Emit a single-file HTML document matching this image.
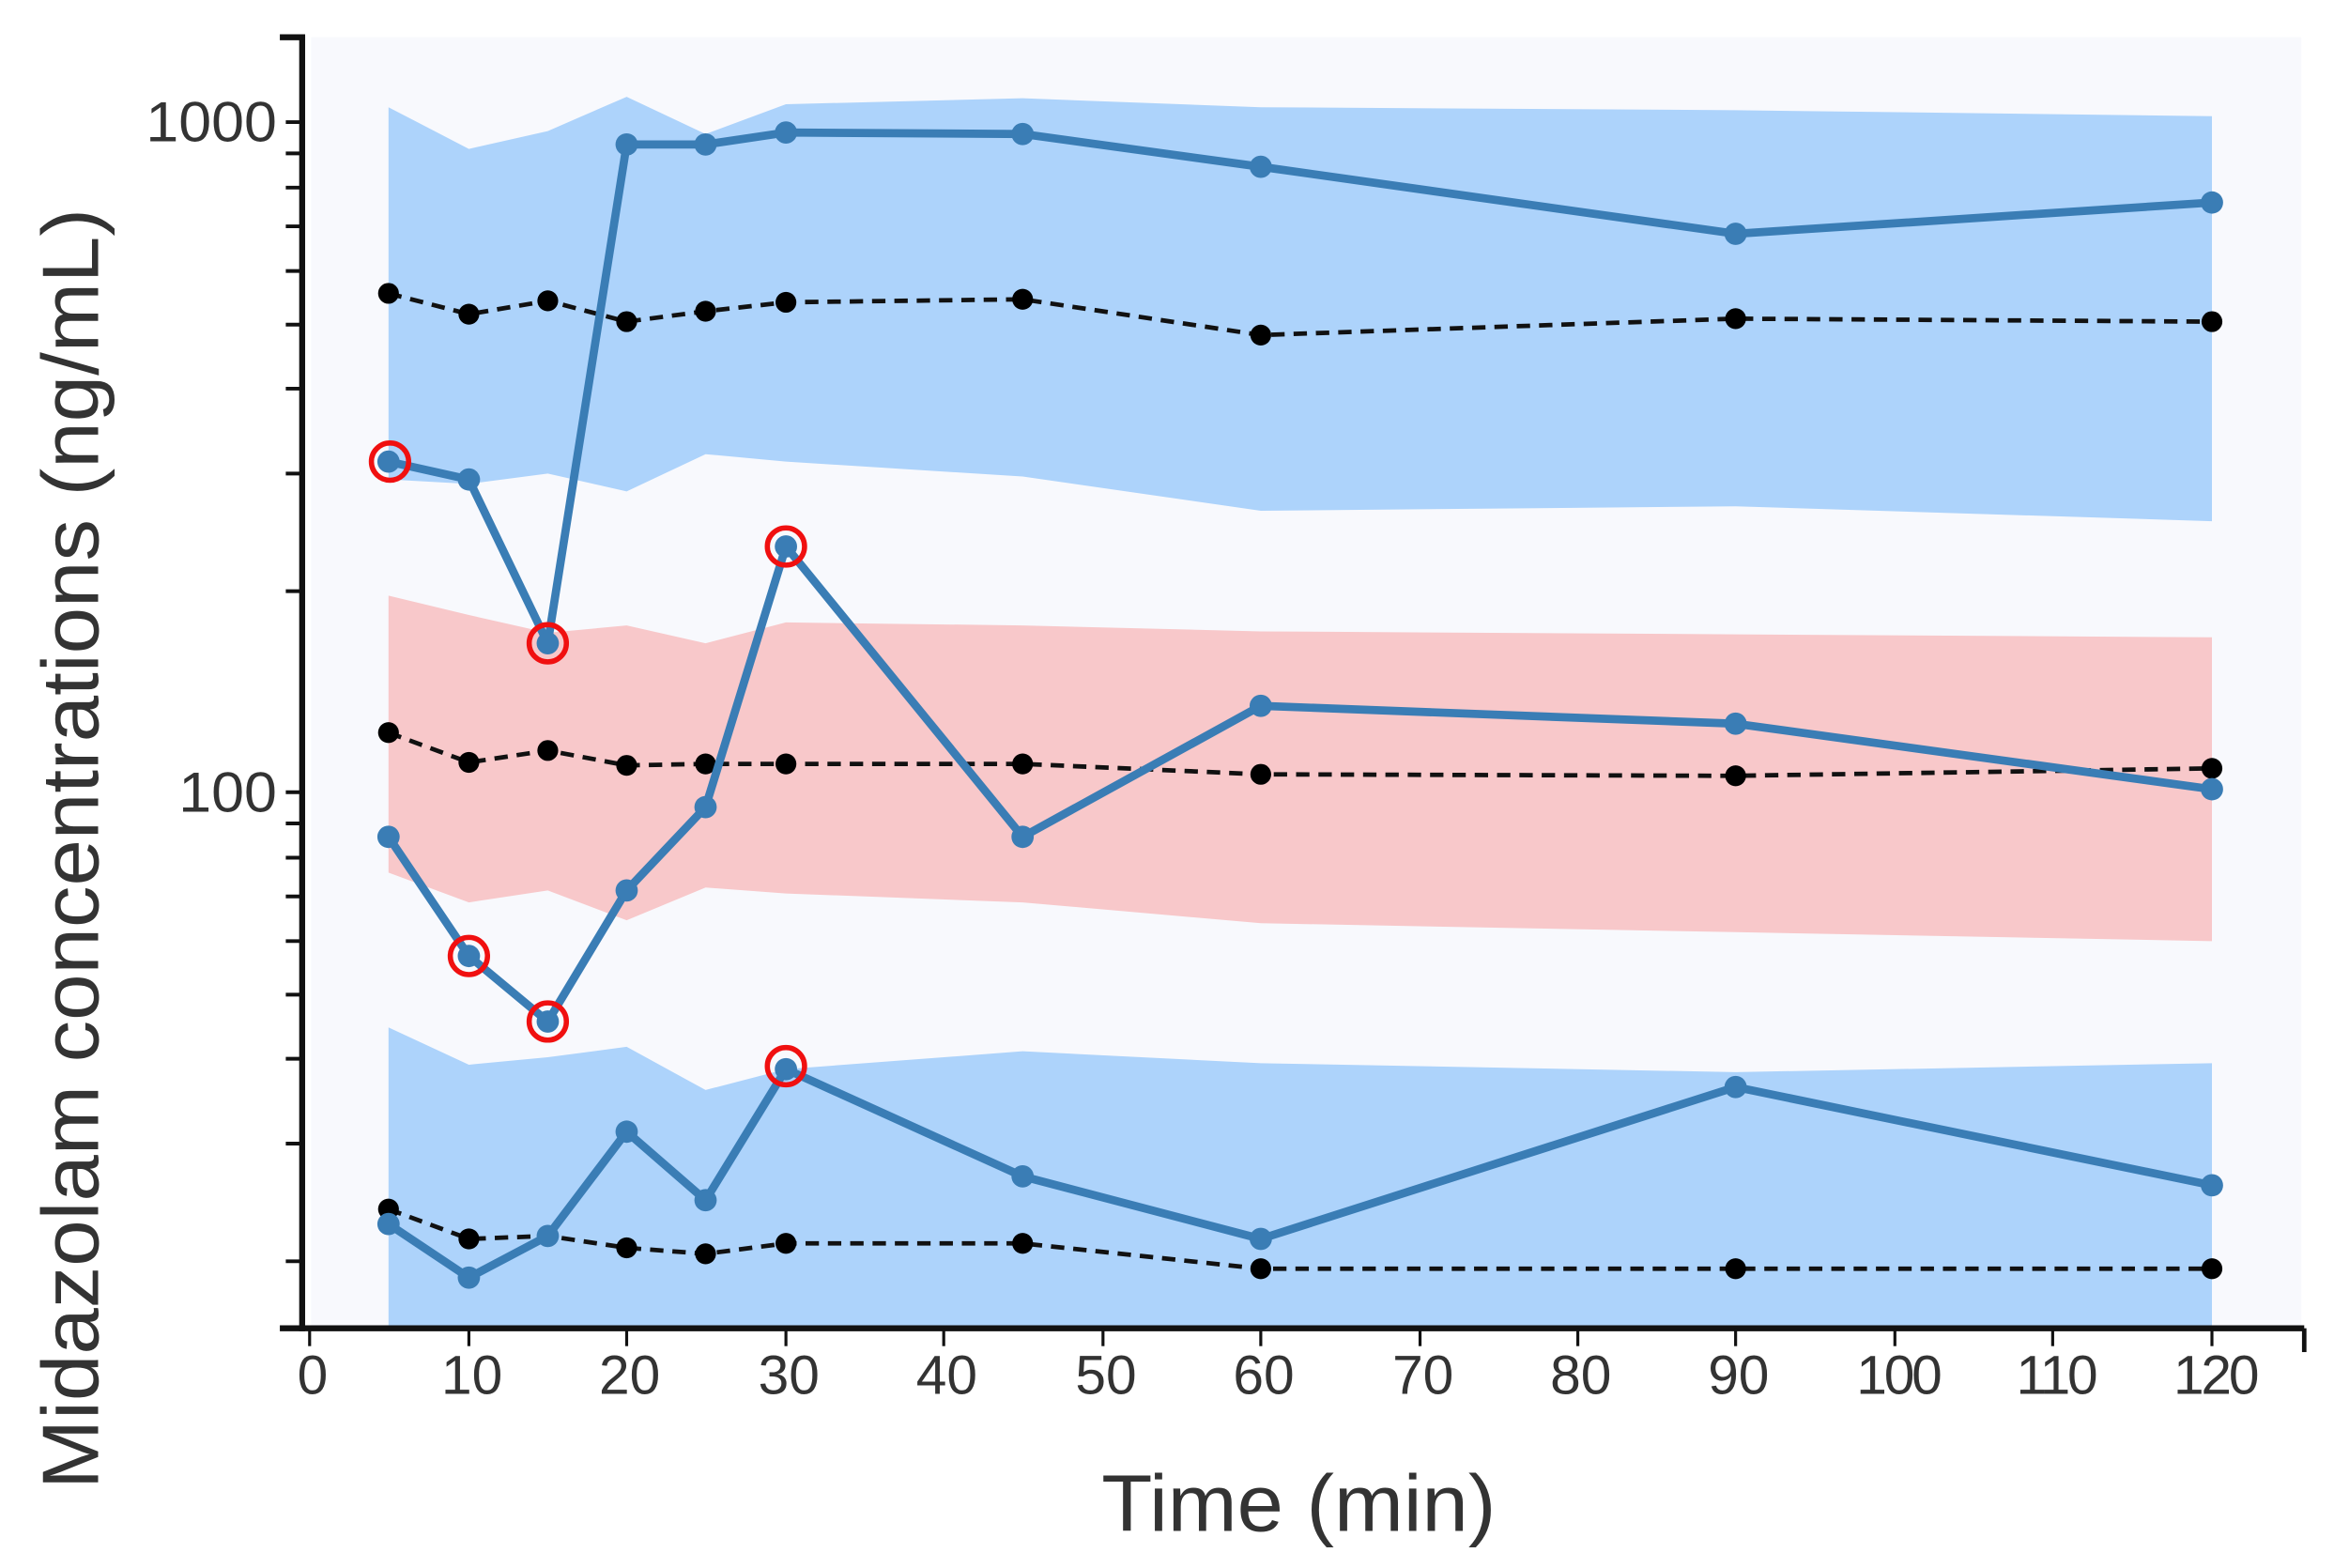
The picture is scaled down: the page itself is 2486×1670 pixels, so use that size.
<!DOCTYPE html>
<html><head><meta charset="utf-8"><style>
html,body{margin:0;padding:0;background:#fff;}
svg{display:block;}
text{font-family:"Liberation Sans",sans-serif;fill:#333;}
</style></head><body>
<svg width="2486" height="1670" viewBox="0 0 1568 1053" preserveAspectRatio="none" xmlns="http://www.w3.org/2000/svg">
<rect x="0" y="0" width="1568" height="1053" fill="#fff"/>
<rect x="209" y="25" width="1337" height="867" fill="#f8f9fd"/>
<polygon fill="#add3fb" points="261,72 315,100 368,88 421,65 474,90 528,70 687,66 847,72 1166,74 1486,78 1486,350 1166,340 847,343 687,320 528,310 474,305 421,330 368,318 315,325 261,322"/>
<polygon fill="#f8c8ca" points="261,400 315,413 368,425 421,420 474,432 528,418 687,420 847,424 1166,426 1486,428 1486,632 1166,626 847,620 687,606 528,600 474,596 421,618 368,598 315,606 261,586"/>
<polygon fill="#add3fb" points="261,690 315,715 368,710 421,703 474,732 528,718 687,706 847,714 1166,720 1486,714 1486,892 261,892"/>
<g stroke="#111" stroke-width="3" stroke-dasharray="9,6" fill="none">
<polyline points="261,197 315,211 368,202 421,216 474,209 528,203 687,201 847,225 1166,214 1486,216"/>
<polyline points="261,492 315,512 368,504 421,514 474,513 528,513 687,513 847,520 1166,521 1486,516"/>
<polyline points="261,812 315,832 368,830 421,838 474,842 528,835 687,835 847,852 1166,852 1486,852"/>
</g>
<g fill="#000">
<circle cx="261" cy="197" r="7"/><circle cx="315" cy="211" r="7"/><circle cx="368" cy="202" r="7"/><circle cx="421" cy="216" r="7"/><circle cx="474" cy="209" r="7"/><circle cx="528" cy="203" r="7"/><circle cx="687" cy="201" r="7"/><circle cx="847" cy="225" r="7"/><circle cx="1166" cy="214" r="7"/><circle cx="1486" cy="216" r="7"/>
<circle cx="261" cy="492" r="7"/><circle cx="315" cy="512" r="7"/><circle cx="368" cy="504" r="7"/><circle cx="421" cy="514" r="7"/><circle cx="474" cy="513" r="7"/><circle cx="528" cy="513" r="7"/><circle cx="687" cy="513" r="7"/><circle cx="847" cy="520" r="7"/><circle cx="1166" cy="521" r="7"/><circle cx="1486" cy="516" r="7"/>
<circle cx="261" cy="812" r="7"/><circle cx="315" cy="832" r="7"/><circle cx="368" cy="830" r="7"/><circle cx="421" cy="838" r="7"/><circle cx="474" cy="842" r="7"/><circle cx="528" cy="835" r="7"/><circle cx="687" cy="835" r="7"/><circle cx="847" cy="852" r="7"/><circle cx="1166" cy="852" r="7"/><circle cx="1486" cy="852" r="7"/>
</g>
<g stroke="#3a7db5" stroke-width="5.5" fill="none" stroke-linejoin="round">
<polyline points="261,310 315,322 368,432 421,97 474,97 528,89 687,90 847,112 1166,157 1486,136"/>
<polyline points="261,562 315,642 368,686 421,598 474,542 528,367 687,562 847,474 1166,486 1486,530"/>
<polyline points="261,822 315,858 368,830 421,760 474,806 528,718 687,790 847,832 1166,730 1486,796"/>
</g>
<g fill="#3a7db5">
<circle cx="261" cy="310" r="7.5"/><circle cx="315" cy="322" r="7.5"/><circle cx="368" cy="432" r="7.5"/><circle cx="421" cy="97" r="7.5"/><circle cx="474" cy="97" r="7.5"/><circle cx="528" cy="89" r="7.5"/><circle cx="687" cy="90" r="7.5"/><circle cx="847" cy="112" r="7.5"/><circle cx="1166" cy="157" r="7.5"/><circle cx="1486" cy="136" r="7.5"/>
<circle cx="261" cy="562" r="7.5"/><circle cx="315" cy="642" r="7.5"/><circle cx="368" cy="686" r="7.5"/><circle cx="421" cy="598" r="7.5"/><circle cx="474" cy="542" r="7.5"/><circle cx="528" cy="367" r="7.5"/><circle cx="687" cy="562" r="7.5"/><circle cx="847" cy="474" r="7.5"/><circle cx="1166" cy="486" r="7.5"/><circle cx="1486" cy="530" r="7.5"/>
<circle cx="261" cy="822" r="7.5"/><circle cx="315" cy="858" r="7.5"/><circle cx="368" cy="830" r="7.5"/><circle cx="421" cy="760" r="7.5"/><circle cx="474" cy="806" r="7.5"/><circle cx="528" cy="718" r="7.5"/><circle cx="687" cy="790" r="7.5"/><circle cx="847" cy="832" r="7.5"/><circle cx="1166" cy="730" r="7.5"/><circle cx="1486" cy="796" r="7.5"/>
</g>
<g stroke="#f01010" stroke-width="3.5" fill="none">
<circle cx="262" cy="310" r="12.5"/><circle cx="368" cy="432" r="12.5"/><circle cx="528" cy="367" r="12.5"/><circle cx="315" cy="642" r="12.5"/><circle cx="368" cy="686" r="12.5"/><circle cx="528" cy="716" r="12.5"/>
</g>
<g stroke="#111" fill="none">
<line x1="203" y1="24" x2="203" y2="894" stroke-width="4"/>
<line x1="188" y1="25" x2="205" y2="25" stroke-width="4"/>
<line x1="188" y1="892" x2="1548" y2="892" stroke-width="4"/>
<line x1="1548" y1="892" x2="1548" y2="908" stroke-width="3"/>
<g stroke-width="2.5">
<line x1="192" y1="82" x2="203" y2="82"/><line x1="192" y1="103" x2="203" y2="103"/><line x1="192" y1="126" x2="203" y2="126"/><line x1="192" y1="152" x2="203" y2="152"/><line x1="192" y1="182" x2="203" y2="182"/><line x1="192" y1="218" x2="203" y2="218"/><line x1="192" y1="261" x2="203" y2="261"/><line x1="192" y1="318" x2="203" y2="318"/><line x1="192" y1="397" x2="203" y2="397"/>
<line x1="192" y1="532" x2="203" y2="532"/><line x1="192" y1="553" x2="203" y2="553"/><line x1="192" y1="576" x2="203" y2="576"/><line x1="192" y1="602" x2="203" y2="602"/><line x1="192" y1="632" x2="203" y2="632"/><line x1="192" y1="668" x2="203" y2="668"/><line x1="192" y1="711" x2="203" y2="711"/><line x1="192" y1="768" x2="203" y2="768"/><line x1="192" y1="847" x2="203" y2="847"/>
</g>
<g stroke-width="2">
<line x1="208" y1="892" x2="208" y2="904"/><line x1="315" y1="892" x2="315" y2="904"/><line x1="421" y1="892" x2="421" y2="904"/><line x1="528" y1="892" x2="528" y2="904"/><line x1="634" y1="892" x2="634" y2="904"/><line x1="741" y1="892" x2="741" y2="904"/><line x1="847" y1="892" x2="847" y2="904"/><line x1="954" y1="892" x2="954" y2="904"/><line x1="1060" y1="892" x2="1060" y2="904"/><line x1="1166" y1="892" x2="1166" y2="904"/><line x1="1273" y1="892" x2="1273" y2="904"/><line x1="1379" y1="892" x2="1379" y2="904"/><line x1="1486" y1="892" x2="1486" y2="904"/>
</g>
</g>
<g font-size="38" text-anchor="end">
<text x="186" y="95" textLength="88" lengthAdjust="spacingAndGlyphs">1000</text>
<text x="186" y="545" textLength="66" lengthAdjust="spacingAndGlyphs">100</text>
</g>
<g font-size="37" text-anchor="middle">
<text x="210" y="936">0</text><text x="317" y="936">10</text><text x="423" y="936">20</text><text x="530" y="936">30</text><text x="636" y="936">40</text><text x="743" y="936">50</text><text x="849" y="936">60</text><text x="956" y="936">70</text><text x="1062" y="936">80</text><text x="1168" y="936">90</text><text x="1275" y="936" letter-spacing="-2">100</text><text x="1381" y="936" letter-spacing="-2">110</text><text x="1488" y="936" letter-spacing="-2">120</text>
</g>
<text x="740" y="1028" font-size="54" textLength="265" lengthAdjust="spacingAndGlyphs">Time (min)</text>
<text transform="translate(66,1000) rotate(-90)" font-size="54" textLength="860" lengthAdjust="spacingAndGlyphs">Midazolam concentrations (ng/mL)</text>
</svg>
</body></html>
